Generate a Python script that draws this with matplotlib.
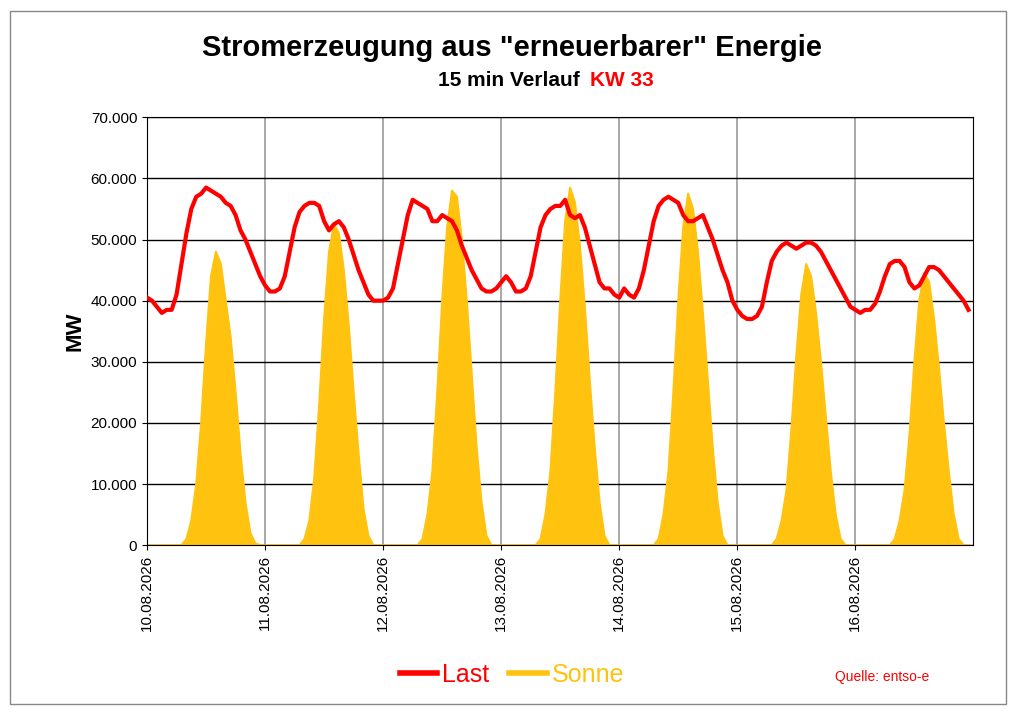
import matplotlib.pyplot as plt
import numpy as np
from matplotlib.ticker import FuncFormatter
from matplotlib.lines import Line2D

tage = ['10.08.2026', '11.08.2026', '12.08.2026', '13.08.2026',
        '14.08.2026', '15.08.2026', '16.08.2026']

last = [
    40.5, 40, 39, 38, 38.5, 38.5, 41, 46, 51, 55, 57, 57.5, 58.5, 58, 57.5, 57, 56, 55.5, 54, 51.5, 50, 48, 46, 44,
    42.5, 41.5, 41.5, 42, 44, 48, 52, 54.5, 55.5, 56, 56, 55.5, 53, 51.5, 52.5, 53, 52, 50, 47.5, 45, 43, 41, 40, 40,
    40, 40.5, 42, 46, 50, 54, 56.5, 56, 55.5, 55, 53, 53, 54, 53.5, 53, 51.5, 49, 47, 45, 43.5, 42, 41.5, 41.5, 42,
    43, 44, 43, 41.5, 41.5, 42, 44, 48, 52, 54, 55, 55.5, 55.5, 56.5, 54, 53.5, 54, 52, 49, 46, 43, 42, 42, 41,
    40.5, 42, 41, 40.5, 42, 45, 49, 53, 55.5, 56.5, 57, 56.5, 56, 54, 53, 53, 53.5, 54, 52, 50, 47.5, 45, 43, 40,
    38.5, 37.5, 37, 37, 37.5, 39, 43, 46.5, 48, 49, 49.5, 49, 48.5, 49, 49.5, 49.5, 49, 48, 46.5, 45, 43.5, 42, 40.5, 39,
    38.5, 38, 38.5, 38.5, 39.5, 41.5, 44, 46, 46.5, 46.5, 45.5, 43, 42, 42.5, 44, 45.5, 45.5, 45, 44, 43, 42, 41, 40, 38.5,
]

# Sonne in 1000 MW
sonne = [
    0, 0, 0, 0, 0, 0, 0, 0, 1, 4, 10, 20, 33, 44, 48, 46, 40, 34, 25, 15, 7, 2, 0.3, 0,
    0, 0, 0, 0, 0, 0, 0, 0, 1, 4, 11, 23, 37, 48, 52.5, 51, 45, 36, 25, 15, 6, 1.5, 0, 0,
    0, 0, 0, 0, 0, 0, 0, 0, 1, 5, 12, 25, 40, 52, 58, 57, 50, 40, 28, 16, 7, 1.5, 0, 0,
    0, 0, 0, 0, 0, 0, 0, 0, 1, 5, 12, 25, 40, 53, 58.5, 56, 49, 39, 27, 16, 7, 1.5, 0, 0,
    0, 0, 0, 0, 0, 0, 0, 0, 1, 5, 12, 25, 40, 52, 57.5, 55, 48, 38, 27, 16, 7, 1.5, 0, 0,
    0, 0, 0, 0, 0, 0, 0, 0, 1, 4, 9, 19, 31, 41, 46, 44, 38, 30, 21, 12, 5, 1, 0, 0,
    0, 0, 0, 0, 0, 0, 0, 0, 1, 4, 9, 18, 30, 40, 44.5, 43, 37, 29, 20, 12, 5, 1, 0, 0,
]

rot = '#FF0000'
gelb = '#FFC20E'

plt.rcParams['font.family'] = ['Liberation Sans', 'DejaVu Sans']
fig = plt.figure(figsize=(10.24, 7.24), dpi=100)
ax = fig.add_axes([0.1436, 0.247, 0.807, 0.591])

t = np.arange(len(last)) / 24
ax.fill_between(t, np.array(sonne) * 1000, color=gelb, lw=0, zorder=2)
ax.plot(t, np.array(sonne) * 1000, color=gelb, lw=1.5, zorder=2)
ax.plot(t, np.array(last) * 1000, color=rot, lw=3, zorder=3)

ax.set_xlim(0, 7)
ax.set_ylim(0, 70000)
ax.set_yticks(np.arange(0, 70001, 10000))
ax.yaxis.set_major_formatter(FuncFormatter(lambda v, p: f'{int(v):,}'.replace(',', '.')))
ax.set_xticks(np.arange(7))
ax.set_xticklabels(tage, rotation=90)
ax.tick_params(labelsize=11)
ax.grid(axis='y', color='black', lw=1, zorder=1)
ax.grid(axis='x', color='#999999', lw=1.2, zorder=1)
ax.set_axisbelow(True)
ax.set_ylabel('MW', fontsize=16, fontweight='bold')

fig.text(0.5, 0.934, 'Stromerzeugung aus "erneuerbarer" Energie', ha='center', va='center',
         fontsize=21, fontweight='bold')
fig.text(0.572, 0.889, '15 min Verlauf ', ha='right', va='center', fontsize=15, fontweight='bold')
fig.text(0.576, 0.889, 'KW 33', ha='left', va='center', fontsize=15, fontweight='bold', color=rot)
fig.text(0.815, 0.06, 'Quelle: entso-e', color=rot, fontsize=10)

handles = [Line2D([], [], color=rot, lw=4), Line2D([], [], color=gelb, lw=4)]
leg = fig.legend(handles, ['Last', 'Sonne'], loc='center', bbox_to_anchor=(0.5, 0.068), ncol=2,
                 frameon=False, fontsize=18, handlelength=1.5, columnspacing=0.8, handletextpad=0.2)
for txt, c in zip(leg.get_texts(), [rot, gelb]):
    txt.set_color(c)

fig.patches.append(plt.Rectangle((0.01, 0.027), 0.972, 0.958, transform=fig.transFigure,
                                 fill=False, edgecolor='#888888', lw=1))

fig.savefig('out.png', dpi=100)
